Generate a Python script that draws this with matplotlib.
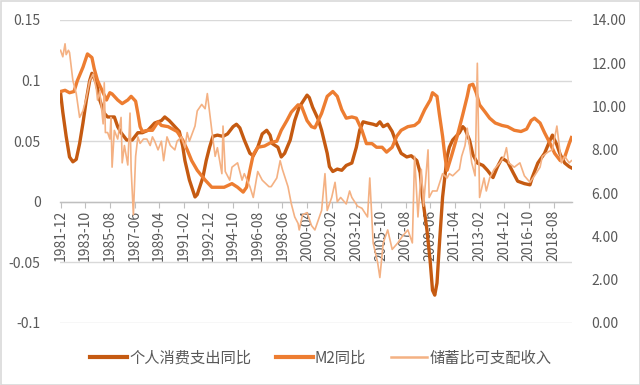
import matplotlib
matplotlib.use('Agg')
import matplotlib.pyplot as plt
from matplotlib.lines import Line2D
from matplotlib.patches import Rectangle

plt.rcParams['font.family'] = ['Noto Sans CJK SC', 'DejaVu Sans']

# ---------------- data ----------------
start_month = "1981-12"
end_month = "2019-12"

pce_dates = ["1981-12", "1982-02", "1982-05", "1982-08", "1982-11", "1983-02", "1983-05", "1983-08",
             "1983-11", "1984-02", "1984-04", "1984-08", "1984-11", "1985-03", "1985-06", "1985-12",
             "1986-03", "1986-06", "1986-11", "1987-04", "1987-09", "1988-01", "1988-06", "1988-12",
             "1989-06", "1989-09", "1990-01", "1990-06", "1990-10", "1991-01", "1991-03", "1991-07",
             "1991-12", "1992-02", "1992-07", "1992-10", "1993-01", "1993-04", "1993-08", "1994-01",
             "1994-05", "1994-10", "1995-01", "1995-04", "1995-08", "1996-01", "1996-04", "1996-08",
             "1996-12", "1997-04", "1997-07", "1997-09", "1998-02", "1998-05", "1998-08", "1999-01",
             "1999-05", "1999-09", "2000-04", "2000-06", "2000-09", "2001-02", "2001-05", "2001-10",
             "2001-12", "2002-03", "2002-07", "2002-11", "2003-03", "2003-08", "2003-12", "2004-03",
             "2004-06", "2004-10", "2005-03", "2005-06", "2005-09", "2005-12", "2006-04", "2006-08",
             "2006-12", "2007-04", "2007-09", "2008-01", "2008-06", "2008-09", "2008-11", "2009-03",
             "2009-06", "2009-08", "2009-10", "2009-12", "2010-02", "2010-05", "2010-09", "2010-11",
             "2011-02", "2011-08", "2011-11", "2012-01", "2012-05", "2012-08", "2012-12", "2013-05",
             "2013-09", "2014-02", "2014-06", "2014-10", "2015-03", "2015-08", "2015-12", "2016-06",
             "2016-11", "2017-01", "2017-06", "2017-12", "2018-05", "2018-07", "2018-11", "2019-02",
             "2019-06", "2019-10", "2019-12"]
pce_values = [0.090, 0.074, 0.054, 0.037, 0.033, 0.035, 0.048, 0.065,
              0.084, 0.100, 0.106, 0.098, 0.084, 0.073, 0.070, 0.070,
              0.062, 0.057, 0.051, 0.051, 0.057, 0.057, 0.059, 0.065,
              0.067, 0.070, 0.067, 0.062, 0.058, 0.046, 0.034, 0.018,
              0.004, 0.006, 0.020, 0.034, 0.045, 0.054, 0.055, 0.054,
              0.056, 0.062, 0.064, 0.061, 0.051, 0.040, 0.038, 0.045,
              0.056, 0.059, 0.055, 0.048, 0.045, 0.037, 0.040, 0.051,
              0.067, 0.078, 0.088, 0.086, 0.078, 0.068, 0.059, 0.040,
              0.029, 0.025, 0.027, 0.026, 0.030, 0.032, 0.045, 0.059,
              0.066, 0.065, 0.064, 0.063, 0.066, 0.062, 0.064, 0.058,
              0.048, 0.040, 0.037, 0.038, 0.034, 0.024, 0.004, -0.023,
              -0.050, -0.073, -0.077, -0.067, -0.037, 0.004, 0.037, 0.045,
              0.051, 0.057, 0.062, 0.060, 0.051, 0.039, 0.032, 0.030,
              0.026, 0.020, 0.029, 0.036, 0.033, 0.024, 0.017, 0.015,
              0.014, 0.020, 0.032, 0.040, 0.051, 0.055, 0.047, 0.039,
              0.032, 0.029, 0.028]

m2_dates = ["1981-12", "1982-04", "1982-08", "1982-12", "1983-03", "1983-08", "1983-12", "1984-04",
            "1984-06", "1984-09", "1985-02", "1985-05", "1985-08", "1985-10", "1986-03", "1986-07",
            "1986-12", "1987-03", "1987-07", "1987-09", "1987-11", "1988-01", "1988-06", "1988-10",
            "1989-03", "1989-06", "1989-12", "1990-04", "1990-08", "1991-01", "1991-05", "1991-09",
            "1992-02", "1992-09", "1993-03", "1993-08", "1994-02", "1994-09", "1995-02", "1995-07",
            "1995-10", "1996-01", "1996-04", "1996-08", "1997-02", "1997-08", "1998-01", "1998-05",
            "1998-10", "1999-02", "1999-08", "1999-11", "2000-04", "2000-08", "2000-11", "2001-05",
            "2001-10", "2002-03", "2002-07", "2002-11", "2003-03", "2003-08", "2003-12", "2004-05",
            "2004-09", "2005-02", "2005-06", "2005-11", "2006-03", "2006-08", "2006-12", "2007-04",
            "2007-10", "2008-04", "2008-08", "2009-01", "2009-06", "2009-08", "2009-12", "2010-02",
            "2010-05", "2010-07", "2010-09", "2011-01", "2011-06", "2011-11", "2012-03", "2012-05",
            "2012-08", "2012-11", "2013-02", "2013-07", "2013-11", "2014-04", "2014-10", "2015-03",
            "2015-09", "2016-03", "2016-08", "2016-12", "2017-03", "2017-08", "2017-12", "2018-05",
            "2018-09", "2019-02", "2019-06", "2019-10", "2019-12"]
m2_values = [0.091, 0.092, 0.090, 0.091, 0.100, 0.111, 0.122, 0.119,
             0.110, 0.100, 0.090, 0.084, 0.090, 0.089, 0.084, 0.081,
             0.084, 0.087, 0.083, 0.073, 0.062, 0.058, 0.059, 0.059,
             0.066, 0.063, 0.062, 0.060, 0.058, 0.051, 0.043, 0.034,
             0.026, 0.018, 0.012, 0.012, 0.012, 0.015, 0.012, 0.008,
             0.012, 0.026, 0.039, 0.045, 0.046, 0.049, 0.050, 0.059,
             0.067, 0.074, 0.080, 0.079, 0.067, 0.062, 0.061, 0.073,
             0.087, 0.091, 0.087, 0.076, 0.069, 0.070, 0.069, 0.059,
             0.048, 0.048, 0.045, 0.045, 0.041, 0.045, 0.054, 0.059,
             0.062, 0.063, 0.066, 0.076, 0.084, 0.090, 0.087, 0.073,
             0.054, 0.038, 0.026, 0.038, 0.054, 0.072, 0.087, 0.096,
             0.097, 0.090, 0.080, 0.074, 0.069, 0.065, 0.063, 0.062,
             0.059, 0.058, 0.060, 0.067, 0.069, 0.065, 0.057, 0.048,
             0.040, 0.034, 0.037, 0.048, 0.053]

sav_dates = ["1981-12", "1982-02", "1982-04", "1982-05", "1982-07", "1982-08", "1982-11", "1983-02",
             "1983-05", "1983-08", "1983-11", "1984-02", "1984-05", "1984-08", "1984-09", "1984-11",
             "1985-02", "1985-03", "1985-04", "1985-06", "1985-08", "1985-09", "1985-10", "1985-12",
             "1986-03", "1986-06", "1986-07", "1986-09", "1986-12", "1987-02", "1987-03", "1987-05",
             "1987-07", "1987-09", "1987-11", "1988-02", "1988-05", "1988-08", "1988-10", "1988-12",
             "1989-03", "1989-06", "1989-08", "1989-11", "1990-02", "1990-06", "1990-08", "1990-12",
             "1991-03", "1991-05", "1991-07", "1991-12", "1992-02", "1992-06", "1992-09", "1992-11",
             "1993-03", "1993-06", "1993-08", "1993-12", "1994-01", "1994-03", "1994-07", "1994-09",
             "1995-02", "1995-06", "1995-08", "1996-01", "1996-04", "1996-08", "1996-12", "1997-06",
             "1997-08", "1998-01", "1998-04", "1998-06", "1998-11", "1999-02", "1999-05", "1999-08",
             "1999-09", "1999-12", "2000-04", "2000-08", "2000-11", "2001-05", "2001-08", "2001-10",
             "2002-02", "2002-05", "2002-07", "2002-10", "2003-03", "2003-06", "2003-08", "2004-01",
             "2004-05", "2004-10", "2004-12", "2005-03", "2005-07", "2005-09", "2005-12", "2006-04",
             "2006-08", "2007-01", "2007-05", "2007-10", "2008-02", "2008-04", "2008-07", "2008-10",
             "2008-12", "2009-04", "2009-05", "2009-08", "2009-12", "2010-05", "2010-09", "2010-11",
             "2011-02", "2011-08", "2011-10", "2012-01", "2012-03", "2012-07", "2012-10", "2012-12",
             "2013-02", "2013-06", "2013-08", "2013-11", "2014-03", "2014-08", "2014-12", "2015-02",
             "2015-04", "2015-09", "2016-02", "2016-06", "2016-11", "2017-03", "2017-08", "2017-10",
             "2018-03", "2018-07", "2018-11", "2019-03", "2019-06", "2019-10", "2019-12"]
sav_values = [12.6, 12.3, 12.9, 12.4, 12.6, 12.5, 11.2, 10.6,
              9.5, 9.8, 10.4, 11.2, 11.5, 10.8, 10.3, 10.7,
              9.2, 11.1, 8.8, 8.8, 8.5, 9.5, 7.2, 8.9,
              8.5, 9.5, 7.4, 8.2, 7.3, 9.7, 7.1, 5.0,
              7.7, 8.6, 8.3, 8.5, 8.5, 8.2, 8.6, 8.4,
              8.0, 8.4, 7.5, 8.6, 8.2, 8.0, 8.4, 8.6,
              8.1, 8.8, 8.4, 9.1, 9.8, 10.1, 9.9, 10.6,
              8.9, 7.7, 8.1, 6.9, 9.1, 7.0, 6.6, 7.2,
              7.4, 6.6, 6.9, 6.3, 5.8, 7.0, 6.6, 6.3,
              6.3, 6.7, 7.5, 7.1, 6.3, 5.5, 4.9, 4.6,
              4.3, 5.0, 5.1, 4.5, 4.3, 5.2, 6.9, 5.2,
              5.8, 6.5, 5.6, 5.8, 5.5, 6.1, 5.8, 5.4,
              5.3, 4.9, 6.7, 3.7, 2.8, 2.1, 3.7, 4.3,
              3.4, 3.7, 4.0, 4.3, 3.7, 7.7, 4.9, 7.1,
              5.4, 8.0, 5.8, 6.1, 6.1, 6.9, 6.7, 6.9,
              6.8, 7.1, 7.7, 8.2, 9.0, 7.4, 6.8, 12.0,
              5.8, 6.7, 6.1, 6.7, 7.1, 7.4, 7.7, 8.1,
              7.4, 7.2, 7.4, 6.8, 6.5, 6.8, 7.2, 7.7,
              7.9, 8.0, 9.1, 7.4, 7.7, 7.4, 7.5]

series_names = ["个人消费支出同比", "M2同比", "储蓄比可支配收入"]
left_ticks = [-0.1, -0.05, 0, 0.05, 0.1, 0.15]
left_labels = ["-0.1", "-0.05", "0", "0.05", "0.1", "0.15"]
right_ticks = [0, 2, 4, 6, 8, 10, 12, 14]
tick_step_months = 22

# ---------------- helpers ----------------
def month_index(s):
    y, m = map(int, s.split('-'))
    y0, m0 = map(int, start_month.split('-'))
    return (y - y0) * 12 + (m - m0)

def month_label(i):
    y0, m0 = map(int, start_month.split('-'))
    k = (m0 - 1) + i
    return f"{y0 + k // 12}-{k % 12 + 1:02d}"

n_months = month_index(end_month) + 1

c_pce = "#C55A11"
c_m2 = "#ED7D31"
c_sav = "#F4B183"
txt = "#595959"

fig = plt.figure(figsize=(6.4, 3.85), dpi=100)
ax = fig.add_axes([60/640, 1 - 323/385, 512/640, 303/385])
ax2 = ax.twinx()

# spines first (setting a spine position resets tick label properties)
for a in (ax, ax2):
    for s in ('left', 'right', 'top'):
        a.spines[s].set_visible(False)
ax2.spines['bottom'].set_visible(False)
ax.spines['bottom'].set_position(('data', 0))
ax.spines['bottom'].set_color('#BFBFBF')
ax.spines['bottom'].set_linewidth(1.0)

ax.plot([month_index(d) for d in pce_dates], pce_values, color=c_pce, lw=2.4,
        solid_joinstyle='round', zorder=3)
ax.plot([month_index(d) for d in m2_dates], m2_values, color=c_m2, lw=2.4,
        solid_joinstyle='round', zorder=4)
ax2.plot([month_index(d) for d in sav_dates], sav_values, color=c_sav, lw=1.2, zorder=3)

ax.set_xlim(-0.5, n_months - 0.5)
ax.set_ylim(-0.1, 0.15)
ax2.set_ylim(0, 14)

ax.set_yticks(left_ticks)
ax.set_yticklabels(left_labels)
ax2.set_yticks(right_ticks)
ax2.set_yticklabels([f"{v:.2f}" for v in right_ticks])

xt = list(range(0, n_months, tick_step_months))
ax.set_xticks(xt)
ax.set_xticklabels([month_label(i) for i in xt])

ax.grid(axis='y', color='#D9D9D9', lw=1.0)
ax.set_axisbelow(True)

ax.tick_params(axis='x', direction='out', length=4, color='#BFBFBF', labelsize=10,
               labelcolor=txt, pad=2, labelrotation=90)
ax.tick_params(axis='y', length=0, labelsize=10, labelcolor=txt, pad=14)
ax2.tick_params(axis='y', length=0, labelsize=10, labelcolor=txt, pad=14)

handles = [Line2D([], [], color=c_pce, lw=3),
           Line2D([], [], color=c_m2, lw=3),
           Line2D([], [], color=c_sav, lw=1.8)]
leg = fig.legend(handles, series_names, loc='center', bbox_to_anchor=(321/640, 1 - 358/385),
                 ncol=3, frameon=False, fontsize=11, handlelength=2.4, handletextpad=0.15,
                 columnspacing=1.6)
for t in leg.get_texts():
    t.set_color(txt)

fig.patches.append(Rectangle((0.5/640, 0.5/385), 1 - 1/640, 1 - 1/385, transform=fig.transFigure,
                             fill=False, edgecolor='#D9D9D9', lw=1.2))

fig.savefig("out.png", dpi=100, facecolor='white')
